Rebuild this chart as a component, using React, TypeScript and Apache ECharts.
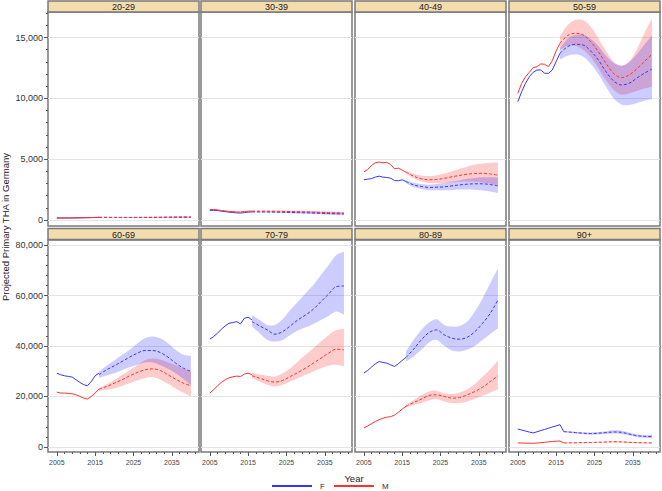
import React, { useEffect, useRef } from 'react';
import * as echarts from 'echarts';

// ---------- Data ----------
const OBS_YEARS = [2005, 2006, 2007, 2008, 2009, 2010, 2011, 2012, 2013, 2014, 2015, 2016];
const OBS_YEARS_90 = [2005, 2006, 2007, 2008, 2009, 2010, 2011, 2012, 2013, 2014, 2015, 2016, 2017];
const PROJ_YEARS = [2016, 2018, 2020, 2022, 2024, 2026, 2028, 2030, 2032, 2034, 2036, 2038, 2040];
const PROJ_YEARS_90 = [2017, 2018, 2020, 2022, 2024, 2026, 2028, 2030, 2032, 2034, 2036, 2038, 2040];

const X_MAJOR = [2005, 2015, 2025, 2035];
const X_MINOR = [2007, 2009, 2011, 2013, 2017, 2019, 2021, 2023, 2027, 2029, 2031, 2033, 2037, 2039, 2041];
const Y_MAJOR_TOP = [0, 5000, 10000, 15000];
const Y_MAJOR_BOTTOM = [0, 20000, 40000, 60000, 80000];

// 20-29
const F_OBS_2029 = [150, 150, 155, 160, 165, 170, 175, 185, 190, 195, 205, 215];
const M_OBS_2029 = [175, 170, 165, 160, 160, 165, 170, 175, 180, 190, 200, 210];
const F_PROJ_2029 = [215, 210, 205, 205, 205, 205, 210, 210, 215, 220, 225, 230, 230];
const F_LO_2029 = [200, 190, 185, 180, 178, 176, 176, 175, 176, 178, 180, 182, 180];
const F_HI_2029 = [230, 230, 228, 230, 232, 236, 244, 250, 256, 264, 272, 280, 284];
const M_PROJ_2029 = [210, 205, 205, 200, 200, 205, 205, 210, 210, 215, 220, 225, 225];
const M_LO_2029 = [195, 188, 184, 178, 175, 176, 174, 175, 173, 175, 176, 178, 176];
const M_HI_2029 = [225, 224, 226, 224, 226, 234, 238, 246, 250, 258, 266, 274, 278];

// 30-39
const F_OBS_3039 = [780, 790, 770, 720, 680, 640, 610, 580, 565, 600, 640, 660];
const M_OBS_3039 = [850, 860, 830, 780, 740, 700, 680, 660, 650, 700, 720, 720];
const F_PROJ_3039 = [660, 655, 650, 640, 630, 615, 600, 585, 565, 545, 525, 505, 490];
const F_LO_3039 = [630, 615, 600, 585, 570, 550, 530, 510, 485, 460, 435, 410, 390];
const F_HI_3039 = [690, 695, 700, 700, 695, 685, 675, 665, 650, 635, 620, 605, 595];
const M_PROJ_3039 = [720, 720, 715, 710, 700, 690, 675, 660, 640, 620, 600, 580, 560];
const M_LO_3039 = [690, 680, 665, 650, 635, 620, 600, 580, 555, 530, 505, 480, 455];
const M_HI_3039 = [750, 760, 765, 770, 765, 760, 750, 740, 725, 710, 695, 680, 665];

// 40-49
const F_OBS_4049 = [3300, 3350, 3400, 3520, 3600, 3520, 3490, 3430, 3240, 3220, 3300, 3160];
const M_OBS_4049 = [3950, 4150, 4470, 4700, 4760, 4700, 4730, 4560, 4200, 4260, 4100, 3930];
const F_PROJ_4049 = [3160, 2880, 2750, 2670, 2690, 2720, 2800, 2880, 2940, 2970, 2970, 2910, 2800];
const F_LO_4049 = [3020, 2700, 2550, 2450, 2430, 2430, 2470, 2500, 2500, 2480, 2420, 2330, 2200];
const F_HI_4049 = [3280, 3050, 2950, 2900, 2950, 3030, 3150, 3270, 3380, 3450, 3500, 3500, 3480];
const M_PROJ_4049 = [3930, 3600, 3380, 3300, 3330, 3420, 3550, 3660, 3760, 3820, 3830, 3780, 3680];
const M_LO_4049 = [3800, 3420, 3150, 3030, 3010, 3030, 3090, 3130, 3150, 3130, 3080, 2980, 2860];
const M_HI_4049 = [4050, 3800, 3650, 3600, 3680, 3820, 4000, 4200, 4400, 4550, 4650, 4700, 4720];

// 50-59
const F_OBS_5059 = [9720, 10540, 11230, 11770, 12140, 12330, 12330, 12060, 12060, 12330, 13020, 13700];
const M_OBS_5059 = [10410, 11230, 11770, 12140, 12520, 12600, 12830, 12800, 12600, 13100, 13900, 14530];
const F_PROJ_5059 = [13700, 14250, 14440, 14390, 13900, 13160, 12200, 11430, 11100, 11230, 11650, 12060, 12410];
const F_LO_5059 = [13200, 13500, 13600, 13450, 12850, 12000, 10950, 10000, 9500, 9450, 9600, 9800, 9940];
const F_HI_5059 = [14100, 14900, 15200, 15250, 14900, 14300, 13500, 12900, 12700, 12950, 13600, 14400, 15160];
const M_PROJ_5059 = [14530, 15160, 15350, 15220, 14670, 13840, 12880, 12060, 11700, 11920, 12410, 13020, 13620];
const M_LO_5059 = [14000, 14300, 14300, 14000, 13400, 12500, 11500, 10700, 10300, 10400, 10600, 10800, 10960];
const M_HI_5059 = [15100, 16040, 16450, 16450, 15900, 14940, 13900, 13020, 12660, 13020, 13980, 15350, 16590];

// 60-69
const F_OBS_6069 = [29250, 28600, 28200, 27950, 27680, 26630, 25580, 24660, 24260, 25970, 28210, 29250];
const M_OBS_6069 = [21740, 21350, 21350, 21220, 21080, 20690, 20030, 19370, 18980, 20030, 21350, 22930];
const F_PROJ_6069 = [28600, 30580, 32160, 33870, 35580, 37160, 38210, 38210, 37420, 35580, 33210, 31240, 29920];
const F_LO_6069 = [27300, 28400, 29250, 30400, 31630, 32600, 33480, 33480, 32420, 31000, 29250, 27000, 24500];
const F_HI_6069 = [29900, 32200, 34270, 36400, 38470, 41000, 43080, 43740, 43080, 41100, 38470, 36500, 36100];
const M_PROJ_6069 = [22930, 23980, 25290, 26610, 28190, 29510, 30560, 30960, 30300, 28580, 26870, 25290, 24240];
const M_LO_6069 = [22200, 22700, 23190, 24200, 25290, 26300, 27270, 27670, 26610, 25000, 23190, 21500, 19900];
const M_HI_6069 = [23300, 24800, 26480, 28500, 30440, 32500, 34390, 35050, 34660, 33600, 32420, 31000, 29790];

// 70-79
const F_OBS_7079 = [42690, 43750, 45060, 46640, 47960, 49010, 49270, 49670, 48750, 50990, 51390, 50340];
const M_OBS_7079 = [21350, 22660, 24240, 25560, 26610, 27400, 27800, 28060, 27930, 28850, 29250, 28590];
const F_PROJ_7079 = [49670, 47960, 46380, 44670, 45720, 47960, 50340, 52310, 54550, 57580, 60610, 63510, 63770];
const F_LO_7079 = [47700, 45060, 42420, 41760, 42420, 44400, 46110, 47430, 48750, 50340, 51920, 53630, 52310];
const F_HI_7079 = [52310, 50340, 48360, 48360, 50600, 54290, 57580, 60880, 64170, 68130, 72080, 76030, 77350];
const M_PROJ_7079 = [28190, 27270, 26210, 25690, 26350, 27930, 29510, 31230, 33200, 35180, 37160, 38740, 38470];
const M_LO_7079 = [27270, 25900, 24640, 23980, 24640, 25960, 27270, 28590, 29910, 31230, 32150, 32550, 31890];
const M_HI_7079 = [29510, 28700, 28190, 27930, 29250, 31230, 33870, 36500, 39140, 41770, 44400, 46380, 46780];

// 80-89
const F_OBS_8089 = [29250, 30310, 31620, 32940, 33870, 33470, 33200, 32540, 31880, 32940, 34260, 35450];
const M_OBS_8089 = [7510, 8300, 9200, 10100, 10800, 11400, 11800, 12000, 12600, 13700, 15000, 16100];
const F_PROJ_8089 = [35450, 38740, 42430, 45330, 46380, 44400, 43090, 42690, 43480, 45720, 49010, 52960, 58240];
const F_LO_8089 = [33870, 35850, 38480, 41370, 42430, 40050, 38210, 37830, 38480, 40050, 42430, 44800, 47040];
const F_HI_8089 = [37830, 42430, 46380, 49270, 50600, 48360, 47700, 47960, 49670, 53630, 58900, 64830, 70760];
const M_PROJ_8089 = [16100, 17600, 18950, 20400, 20660, 20000, 19340, 19600, 20660, 21980, 23690, 25930, 28170];
const M_LO_8089 = [15700, 16700, 17400, 18420, 18950, 18030, 17370, 17370, 18030, 19080, 20270, 21580, 22900];
const M_HI_8089 = [16600, 18600, 20500, 22000, 22300, 21320, 21000, 21580, 22900, 25000, 27900, 30800, 34220];

// 90+
const F_OBS_90 = [7100, 6700, 6300, 5900, 5550, 6000, 6500, 6950, 7400, 7900, 8350, 8830, 6060];
const M_OBS_90 = [1600, 1550, 1500, 1480, 1450, 1550, 1700, 1850, 2000, 2150, 2250, 2350, 1600];
const F_PROJ_90 = [6060, 5950, 5700, 5450, 5300, 5450, 5700, 5930, 5800, 5150, 4500, 4200, 4100];
const F_LO_90 = [5800, 5650, 5350, 5050, 4850, 4950, 5150, 5300, 5150, 4550, 3950, 3650, 3500];
const F_HI_90 = [6300, 6250, 6050, 5850, 5750, 5950, 6250, 6600, 6450, 5750, 5050, 4750, 4700];
const M_PROJ_90 = [1600, 1620, 1650, 1700, 1750, 1850, 1950, 2050, 2000, 1850, 1700, 1650, 1600];
const M_LO_90 = [1450, 1460, 1470, 1500, 1540, 1630, 1720, 1810, 1750, 1600, 1450, 1400, 1350];
const M_HI_90 = [1750, 1780, 1830, 1900, 1960, 2070, 2180, 2290, 2250, 2100, 1950, 1900, 1850];

const PANELS = [
  { title: '20-29', row: 0, col: 0, oy: OBS_YEARS, py: PROJ_YEARS, fObs: F_OBS_2029, mObs: M_OBS_2029, fP: F_PROJ_2029, fLo: F_LO_2029, fHi: F_HI_2029, mP: M_PROJ_2029, mLo: M_LO_2029, mHi: M_HI_2029 },
  { title: '30-39', row: 0, col: 1, oy: OBS_YEARS, py: PROJ_YEARS, fObs: F_OBS_3039, mObs: M_OBS_3039, fP: F_PROJ_3039, fLo: F_LO_3039, fHi: F_HI_3039, mP: M_PROJ_3039, mLo: M_LO_3039, mHi: M_HI_3039 },
  { title: '40-49', row: 0, col: 2, oy: OBS_YEARS, py: PROJ_YEARS, fObs: F_OBS_4049, mObs: M_OBS_4049, fP: F_PROJ_4049, fLo: F_LO_4049, fHi: F_HI_4049, mP: M_PROJ_4049, mLo: M_LO_4049, mHi: M_HI_4049 },
  { title: '50-59', row: 0, col: 3, oy: OBS_YEARS, py: PROJ_YEARS, fObs: F_OBS_5059, mObs: M_OBS_5059, fP: F_PROJ_5059, fLo: F_LO_5059, fHi: F_HI_5059, mP: M_PROJ_5059, mLo: M_LO_5059, mHi: M_HI_5059 },
  { title: '60-69', row: 1, col: 0, oy: OBS_YEARS, py: PROJ_YEARS, fObs: F_OBS_6069, mObs: M_OBS_6069, fP: F_PROJ_6069, fLo: F_LO_6069, fHi: F_HI_6069, mP: M_PROJ_6069, mLo: M_LO_6069, mHi: M_HI_6069 },
  { title: '70-79', row: 1, col: 1, oy: OBS_YEARS, py: PROJ_YEARS, fObs: F_OBS_7079, mObs: M_OBS_7079, fP: F_PROJ_7079, fLo: F_LO_7079, fHi: F_HI_7079, mP: M_PROJ_7079, mLo: M_LO_7079, mHi: M_HI_7079 },
  { title: '80-89', row: 1, col: 2, oy: OBS_YEARS, py: PROJ_YEARS, fObs: F_OBS_8089, mObs: M_OBS_8089, fP: F_PROJ_8089, fLo: F_LO_8089, fHi: F_HI_8089, mP: M_PROJ_8089, mLo: M_LO_8089, mHi: M_HI_8089 },
  { title: '90+', row: 1, col: 3, oy: OBS_YEARS_90, py: PROJ_YEARS_90, fObs: F_OBS_90, mObs: M_OBS_90, fP: F_PROJ_90, fLo: F_LO_90, fHi: F_HI_90, mP: M_PROJ_90, mLo: M_LO_90, mHi: M_HI_90 },
];

// ---------- Layout / style ----------
const FONT = '"Liberation Sans", Arial, Helvetica, sans-serif';
const COL_X = [48, 201, 355, 509];
const PANEL_W = 151;
const ROW_PLOT_TOP = [12, 240];
const ROW_PLOT_H = [214, 212];
const ROW_HEAD_TOP = [1, 228.5];
const HEAD_H = 11;
const X_MIN = 2002.7;
const X_MAX = 2042.1;
const Y_RANGE = [[-500, 17100], [-2000, 82000]];
const BORDER = '#7a7a7a';
const BLUE = '#3535ff';
const RED = '#ff3030';
const BLUE_BAND = 'rgba(0,0,255,0.2)';
const RED_BAND = 'rgba(255,0,0,0.2)';

function minorTicks(step: number, maxV: number, majors: number[]) {
  const out: number[] = [];
  for (let v = 0; v <= maxV; v += step) if (majors.indexOf(v) < 0) out.push(v);
  return out;
}
const Y_MINOR = [minorTicks(1000, 17000, Y_MAJOR_TOP), minorTicks(4000, 80000, Y_MAJOR_BOTTOM)];
const Y_MAJOR = [Y_MAJOR_TOP, Y_MAJOR_BOTTOM];

const fmt = (v: number) => Number(v).toLocaleString('en-US');

// Catmull-Rom spline through screen points, as cubic bezier commands
function splineCmds(pts: number[][]) {
  let d = '';
  for (let i = 0; i < pts.length - 1; i++) {
    const p0 = pts[Math.max(i - 1, 0)];
    const p1 = pts[i];
    const p2 = pts[i + 1];
    const p3 = pts[Math.min(i + 2, pts.length - 1)];
    const c1x = p1[0] + (p2[0] - p0[0]) / 6;
    const c1y = p1[1] + (p2[1] - p0[1]) / 6;
    const c2x = p2[0] - (p3[0] - p1[0]) / 6;
    const c2y = p2[1] - (p3[1] - p1[1]) / 6;
    d += ` C${c1x.toFixed(2)},${c1y.toFixed(2)} ${c2x.toFixed(2)},${c2y.toFixed(2)} ${p2[0].toFixed(2)},${p2[1].toFixed(2)}`;
  }
  return d;
}

function buildOption() {
  const grid: any[] = [];
  const xAxis: any[] = [];
  const yAxis: any[] = [];
  const series: any[] = [];
  const graphics: any[] = [];

  PANELS.forEach((p, gi) => {
    const left = COL_X[p.col];
    const top = ROW_PLOT_TOP[p.row];
    grid.push({
      left, top, width: PANEL_W, height: ROW_PLOT_H[p.row],
      show: true, borderColor: BORDER, borderWidth: 1.5, backgroundColor: '#fff',
      containLabel: false, outerBoundsMode: 'none',
    });
    const bottomRow = p.row === 1;
    const firstCol = p.col === 0;
    xAxis.push({
      type: 'value', gridIndex: gi, min: X_MIN, max: X_MAX, position: 'bottom',
      axisLine: { show: false, onZero: false }, splitLine: { show: false },
      axisTick: { show: bottomRow, customValues: X_MAJOR, length: 4, lineStyle: { color: '#555', width: 1 } },
      axisLabel: { show: bottomRow, customValues: X_MAJOR, fontSize: 7, color: '#444', margin: 7, fontFamily: FONT, formatter: (v: number) => String(Math.round(v)) },
    });
    xAxis.push({
      type: 'value', gridIndex: gi, min: X_MIN, max: X_MAX, position: 'bottom',
      axisLine: { show: false, onZero: false }, splitLine: { show: false },
      axisTick: { show: bottomRow, customValues: X_MINOR, length: 2, lineStyle: { color: '#555', width: 1 } },
      axisLabel: { show: false },
    });
    const [ymin, ymax] = Y_RANGE[p.row];
    yAxis.push({
      type: 'value', gridIndex: gi, min: ymin, max: ymax, position: 'left',
      axisLine: { show: false, onZero: false },
      splitLine: { show: true, lineStyle: { color: '#e4e4e4', width: 1 } },
      axisTick: { show: firstCol, customValues: Y_MAJOR[p.row], length: 4, lineStyle: { color: '#555', width: 1 } },
      axisLabel: { show: firstCol, customValues: Y_MAJOR[p.row], fontSize: 9, color: '#333', margin: 5, fontFamily: FONT, formatter: fmt },
    });
    yAxis.push({
      type: 'value', gridIndex: gi, min: ymin, max: ymax, position: 'left',
      axisLine: { show: false, onZero: false }, splitLine: { show: false },
      axisTick: { show: firstCol, customValues: Y_MINOR[p.row], length: 2, lineStyle: { color: '#555', width: 1 } },
      axisLabel: { show: false },
    });
    const xi = gi * 2;
    const yi = gi * 2;

    const band = (years: number[], lo: number[], hi: number[], color: string, name: string) => {
      series.push({
        type: 'custom', name, xAxisIndex: xi, yAxisIndex: yi, silent: true, z: 2, clip: true,
        data: [[years[0], lo[0]]],
        renderItem: (_params: any, api: any) => {
          const topPts = years.map((y, i) => api.coord([y, hi[i]]));
          const botPts = years.map((y, i) => api.coord([y, lo[i]])).reverse();
          const d =
            `M${topPts[0][0].toFixed(2)},${topPts[0][1].toFixed(2)}` +
            splineCmds(topPts) +
            ` L${botPts[0][0].toFixed(2)},${botPts[0][1].toFixed(2)}` +
            splineCmds(botPts) +
            ' Z';
          return { type: 'path', shape: { pathData: d }, style: { fill: color, stroke: 'none' } };
        },
      });
    };
    band(p.py, p.mLo, p.mHi, RED_BAND, 'M band');
    band(p.py, p.fLo, p.fHi, BLUE_BAND, 'F band');

    const line = (name: string, years: number[], vals: number[], color: string, dashed: boolean) => {
      series.push({
        type: 'line', name, xAxisIndex: xi, yAxisIndex: yi,
        data: years.map((y, i) => [y, vals[i]]), smooth: dashed ? 0.35 : false, symbol: 'none', showSymbol: false,
        color, itemStyle: { color },
        lineStyle: { color, width: 1, type: dashed ? [3, 2] : 'solid' }, silent: true, z: 3,
      });
    };
    line('F', p.oy, p.fObs, BLUE, false);
    line('M', p.oy, p.mObs, RED, false);
    line('F projected', p.py, p.fP, BLUE, true);
    line('M projected', p.py, p.mP, RED, true);

    graphics.push({
      type: 'rect', shape: { x: left, y: ROW_HEAD_TOP[p.row], width: PANEL_W, height: HEAD_H },
      style: { fill: '#F3DCAE', stroke: BORDER, lineWidth: 1.5 }, z: 10,
    });
    graphics.push({
      type: 'text', x: left + PANEL_W / 2, y: ROW_HEAD_TOP[p.row] + HEAD_H / 2 + 0.5, z: 11,
      style: { text: p.title, fontSize: 9, fontFamily: FONT, fill: '#222', align: 'center', verticalAlign: 'middle' },
    });
  });

  graphics.push({
    type: 'text', x: 5, y: 227, rotation: Math.PI / 2, z: 11,
    style: { text: 'Projected Primary THA in Germany', fontSize: 9.5, fontFamily: FONT, fill: '#222', align: 'center', verticalAlign: 'middle' },
  });
  graphics.push({
    type: 'text', x: 354, y: 478, z: 11,
    style: { text: 'Year', fontSize: 9.5, fontFamily: FONT, fill: '#222', align: 'center', verticalAlign: 'middle' },
  });

  return {
    animation: false,
    backgroundColor: '#fff',
    grid, xAxis, yAxis, series,
    legend: {
      data: ['F', 'M'], left: 272, top: 482, padding: 0, itemWidth: 40, itemHeight: 2, icon: 'rect', itemGap: 9,
      selectedMode: false,
      textStyle: { fontSize: 8, color: '#333', fontFamily: FONT, padding: [0, 0, 0, 3] },
    },
    graphic: { elements: graphics },
  };
}

export default function App() {
  const ref = useRef<HTMLDivElement>(null);
  useEffect(() => {
    const chart = echarts.init(ref.current as HTMLDivElement, null, { renderer: 'svg' });
    chart.setOption(buildOption() as any);
    return () => chart.dispose();
  }, []);
  return (
    <div
      ref={ref}
      style={{ position: 'fixed', left: 0, top: 0, width: 662, height: 491, background: '#fff' }}
    />
  );
}
